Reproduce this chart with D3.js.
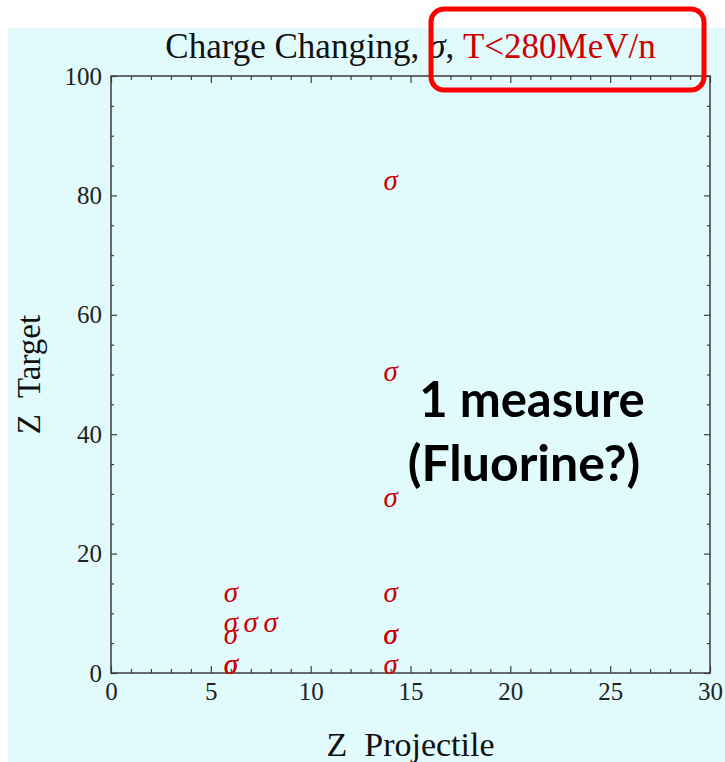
<!DOCTYPE html>
<html>
<head>
<meta charset="utf-8">
<script src="https://cdn.jsdelivr.net/npm/d3@7"></script>
<style>
  body { margin: 0; background: #ffffff; }
  svg { display: block; }
</style>
</head>
<body>
<div id="chart"></div>
<script>
// measurements: projectile charge vs target charge
var projectileZ = [6, 6, 6, 6, 6, 7, 8, 14, 14, 14, 14, 14, 14, 14];
var targetZ     = [1, 1, 6, 8, 13, 8, 8, 1, 6, 6, 13, 29, 50, 82];

var xTicks = [0, 5, 10, 15, 20, 25, 30];
var yTicks = [0, 20, 40, 60, 80, 100];

var svgWidth = 725;
var svgHeight = 762;

var margin = { top: 76, right: 15, bottom: 89, left: 111 };
var width = 710 - margin.left;
var height = 673 - margin.top;

var svg = d3.select("#chart")
    .append("svg")
    .attr("width", svgWidth)
    .attr("height", svgHeight);

// light cyan slide background
svg.append("rect")
    .attr("x", 8)
    .attr("y", 28)
    .attr("width", svgWidth - 8)
    .attr("height", svgHeight - 28)
    .attr("fill", "#e1fbfd");

var chartGroup = svg.append("g")
    .attr("transform", `translate(${margin.left}, ${margin.top})`);

var xScale = d3.scaleLinear().domain([0, 30]).range([0, width]);
var yScale = d3.scaleLinear().domain([0, 100]).range([height, 0]);

var axisColor = "#3c3c3c";
var serif = "'Liberation Serif', 'DejaVu Serif', serif";

function styleAxis(g) {
    g.select(".domain").remove();
    g.selectAll("line").attr("stroke", axisColor).attr("stroke-width", 1.2);
    g.selectAll("text")
        .attr("fill", "#222")
        .style("font-family", serif)
        .style("font-size", "25px");
}

var xMinor = d3.range(0, 31, 1).filter(d => d % 5 != 0);
var yMinor = d3.range(0, 101, 5).filter(d => d % 20 != 0);

// bottom axis (major + minor)
chartGroup.append("g")
    .attr("transform", `translate(0, ${height})`)
    .call(d3.axisBottom(xScale).tickValues(xTicks).tickSize(-7).tickPadding(9).tickFormat(d3.format("d")))
    .call(styleAxis);
chartGroup.append("g")
    .attr("transform", `translate(0, ${height})`)
    .call(d3.axisBottom(xScale).tickValues(xMinor).tickSize(-4).tickFormat(""))
    .call(styleAxis);

// top axis, ticks only
chartGroup.append("g")
    .call(d3.axisTop(xScale).tickValues(xTicks).tickSize(-7).tickFormat(""))
    .call(styleAxis);
chartGroup.append("g")
    .call(d3.axisTop(xScale).tickValues(xMinor).tickSize(-4).tickFormat(""))
    .call(styleAxis);

// left axis
chartGroup.append("g")
    .call(d3.axisLeft(yScale).tickValues(yTicks).tickSize(-6).tickPadding(9).tickFormat(d3.format("d")))
    .call(styleAxis);
chartGroup.append("g")
    .call(d3.axisLeft(yScale).tickValues(yMinor).tickSize(-3).tickFormat(""))
    .call(styleAxis);

// right axis, ticks only
chartGroup.append("g")
    .attr("transform", `translate(${width}, 0)`)
    .call(d3.axisRight(yScale).tickValues(yTicks).tickSize(-6).tickFormat(""))
    .call(styleAxis);
chartGroup.append("g")
    .attr("transform", `translate(${width}, 0)`)
    .call(d3.axisRight(yScale).tickValues(yMinor).tickSize(-3).tickFormat(""))
    .call(styleAxis);

// frame
chartGroup.append("rect")
    .attr("width", width)
    .attr("height", height)
    .attr("fill", "none")
    .attr("stroke", axisColor)
    .attr("stroke-width", 1.5);

// sigma markers
chartGroup.selectAll(".sigma")
    .data(projectileZ)
    .enter()
    .append("text")
    .attr("class", "sigma")
    .attr("x", d => xScale(d))
    .attr("y", (d, i) => yScale(targetZ[i]))
    .attr("dy", "0.24em")
    .attr("text-anchor", "middle")
    .attr("fill", "#cc0000")
    .style("font-family", serif)
    .style("font-style", "italic")
    .style("font-size", "29px")
    .text("σ");

// title
var title = svg.append("text")
    .attr("x", margin.left + width / 2)
    .attr("y", 58)
    .attr("text-anchor", "middle")
    .style("font-family", serif)
    .style("font-size", "35px")
    .attr("fill", "#111");
title.append("tspan").text("Charge Changing, ");
title.append("tspan").style("font-style", "italic").text("σ");
title.append("tspan").text(", ");
title.append("tspan").attr("fill", "#cc0000").text("T<280MeV/n");

// axis labels
svg.append("text")
    .attr("x", margin.left + width / 2)
    .attr("y", 756)
    .attr("text-anchor", "middle")
    .style("font-family", serif)
    .style("font-size", "34px")
    .style("white-space", "pre")
    .attr("fill", "#111")
    .text("Z  Projectile");

svg.append("text")
    .attr("transform", `translate(40, ${margin.top + height / 2}) rotate(-90)`)
    .attr("text-anchor", "middle")
    .style("font-family", serif)
    .style("font-size", "33px")
    .style("white-space", "pre")
    .attr("fill", "#111")
    .text("Z  Target");

// annotation
svg.append("text")
    .attr("x", 532)
    .attr("y", 417)
    .attr("text-anchor", "middle")
    .style("font-family", "Lato, 'Open Sans', sans-serif")
    .style("font-weight", "bold")
    .style("font-size", "49px")
    .attr("fill", "#000")
    .text("1 measure");

svg.append("text")
    .attr("x", 524)
    .attr("y", 481)
    .attr("text-anchor", "middle")
    .style("font-family", "Lato, 'Open Sans', sans-serif")
    .style("font-weight", "bold")
    .style("font-size", "50px")
    .attr("fill", "#000")
    .text("(Fluorine?)");

// red highlight box round the energy cut
svg.append("rect")
    .attr("x", 431)
    .attr("y", 9)
    .attr("width", 273)
    .attr("height", 81)
    .attr("rx", 13)
    .attr("fill", "none")
    .attr("stroke", "#ff0000")
    .attr("stroke-width", 5);
</script>
</body>
</html>
